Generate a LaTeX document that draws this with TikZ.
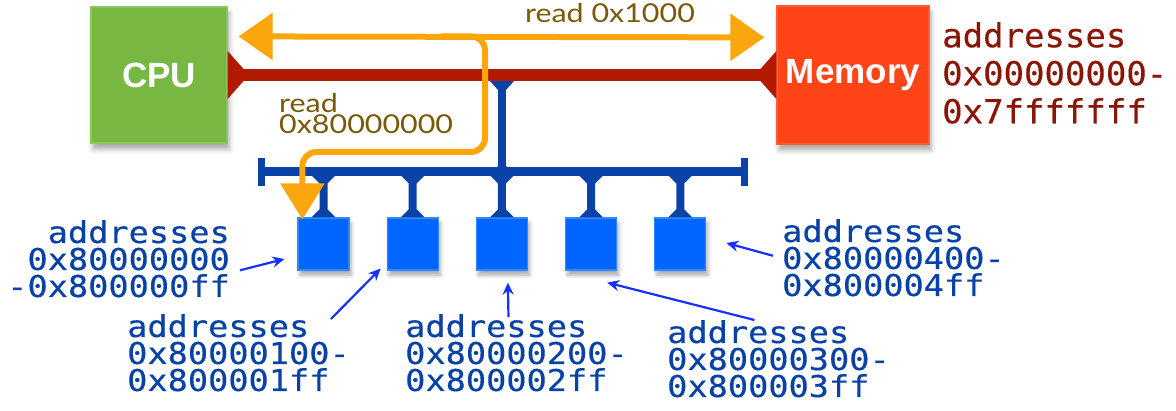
\documentclass[tikz,border=0pt]{standalone}
\usepackage{fontspec}
\usepackage{xcolor}
\usetikzlibrary{arrows.meta, calc, shadows.blur}

\newfontfamily\addrfont[FakeStretch=1.12, FakeBold=0.4]{DejaVu Sans Mono}
\newfontfamily\memaddrfont[FakeStretch=1.03, FakeBold=0.4]{DejaVu Sans Mono}
\newfontfamily\readfont[FakeStretch=1.17]{Lato}
\newfontfamily\unitfont{Liberation Sans}

\definecolor{cpugreen}{HTML}{77B843}
\definecolor{cpuedge}{HTML}{88C75C}
\definecolor{memred}{HTML}{FF4417}
\definecolor{memedge}{HTML}{FF5C33}
\definecolor{busred}{HTML}{B21A00}
\definecolor{busblue}{HTML}{0A42A8}
\definecolor{devblue}{HTML}{0066FF}
\definecolor{devedge}{HTML}{2E8BFF}
\definecolor{addrblue}{HTML}{0842A6}
\definecolor{addrred}{HTML}{8A1608}
\definecolor{readbrown}{HTML}{7A5A08}
\definecolor{hl}{HTML}{FBA60C}
\definecolor{ptrblue}{HTML}{1530FF}

\tikzset{
  unitbox/.style={minimum width=136pt, minimum height=136pt, inner sep=0pt, line width=1.2pt,
    blur shadow={shadow xshift=2pt, shadow yshift=-6pt, shadow opacity=35, shadow blur radius=5pt}},
  unittext/.style={text=white, inner sep=0pt, font=\unitfont\bfseries\fontsize{35}{35}\selectfont},
  device/.style={fill=devblue, draw=devedge, line width=1.2pt, minimum width=51pt, minimum height=52pt, inner sep=0pt,
    blur shadow={shadow xshift=2pt, shadow yshift=-5pt, shadow opacity=35, shadow blur radius=4pt}},
  redbus/.style={busred, line width=12pt},
  bluebus/.style={busblue, line width=8pt},
  hilite/.style={draw=hl, line width=6pt, rounded corners=14pt},
  addr/.style={text=addrblue, inner sep=0pt, align=left, font=\addrfont\fontsize{30}{27}\selectfont},
  memaddr/.style={text=addrred, inner sep=0pt, align=left, font=\memaddrfont\fontsize{33}{38}\selectfont},
  readlbl/.style={text=readbrown, inner sep=0pt, align=left, font=\readfont\fontsize{26}{21}\selectfont},
  pointer/.style={ptrblue, line width=2.2pt, -{Stealth[length=12pt,width=11pt]}},
}

\begin{document}
\begin{tikzpicture}[x=1pt, y=-1pt]
    \useasboundingbox (0,0) rectangle (1176,411);

    % CPU and memory on the top bus
    \node[unitbox, fill=cpugreen, draw=cpuedge] (cpu) at (159,75) {};
    \node[unitbox, fill=memred, draw=memedge, minimum width=152pt, minimum height=138pt] (mem) at (853,75) {};

    % devices on the lower bus
    \foreach \i in {1,...,5}
        \node[device] (dev\i) at ({323.5+89.2*(\i-1)},244) {};

    % blue bus and its taps
    \coordinate (hub) at (502,172);
    \coordinate (tap) at (hub |- cpu.east);
    \coordinate (bl) at (261,172);
    \coordinate (br) at (744,172);
    \draw[bluebus] (tap) -- (hub);
    \draw[bluebus, line width=9pt] (bl) -- (br);
    \draw[bluebus, line width=7pt] ($(bl)+(0,-14)$) -- ($(bl)+(0,14)$);
    \draw[bluebus, line width=7pt] ($(br)+(0,-14)$) -- ($(br)+(0,14)$);
    \fill[busblue] (hub) +(-10,0) -- +(0,-10) -- +(10,0) -- +(0,10) -- cycle;
    \fill[busblue] (tap) ++(-12,6) -- ++(24,0) -- ++(-8,9) -- ++(-8,0) -- cycle;
    \foreach \i in {1,...,5}
        \fill[busblue] (dev\i.north) ++(-12,0) -- ++(8,-8) -- ++(0,-26) -- ++(-8,-8)
            -- ++(24,0) -- ++(-8,8) -- ++(0,26) -- ++(8,8) -- cycle;

    % red bus
    \draw[redbus] (cpu.east) -- (mem.west);
    \fill[busred] (cpu.east) ++(0,-24) -- ++(16,18) -- ++(0,12) -- ++(-16,18) -- cycle;
    \fill[busred] (mem.west) ++(0,-24) -- ++(-16,18) -- ++(0,12) -- ++(16,18) -- cycle;

    % box texts
    \node[unittext] (cputext) at (cpu) {CPU};
    \node[unittext] (memtext) at (mem) {Memory};

    % address ranges
    \node[memaddr, anchor=north west] (memrange) at (942,22) {addresses\\0x00000000-\\0x7fffffff};
    \node[addr, anchor=north east, align=right] (lab1) at (230,220) {addresses\\0x80000000\\-0x800000ff};
    \node[addr, anchor=north west] (lab2) at (127,314) {addresses\\0x80000100-\\0x800001ff};
    \node[addr, anchor=north west] (lab3) at (405,314) {addresses\\0x80000200-\\0x800002ff};
    \node[addr, anchor=north west] (lab4) at (667,320) {addresses\\0x80000300-\\0x800003ff};
    \node[addr, anchor=north west] (lab5) at (782,219) {addresses\\0x80000400-\\0x800004ff};

    \draw[pointer] ($(lab1.east)+(10,11.5)$) -- ($(dev1.west)+(-13,15)$);
    \draw[pointer] ($(lab2.north east)+(-19,5)$) -- ($(dev2.south west)+(-6,-2)$);
    \draw[pointer] ($(lab3.north)+(-8,3)$) -- ($(dev3.south)+(6,12)$);
    \draw[pointer] ($(lab4.north)+(-24,0)$) -- ($(dev4.south east)+(-10,12)$);
    \draw[pointer] ($(lab5.west)+(-9,-2)$) -- ($(dev5.east)+(20,-1)$);

    % the two reads
    \coordinate (rdL) at ($(cpu.north east)+(11,30)$);
    \coordinate (rdR) at ($(mem.north west)+(-12,32)$);
    \coordinate (rdB) at ($(rdL)+(202,0)$);
    \coordinate (bend) at (485,152);
    \draw[hilite, {Triangle[width=46pt,length=34pt]}-{Triangle[width=46pt,length=34pt]}] (rdL) -- (rdR);
    \draw[hilite, -{Triangle[width=43pt,length=36pt]}] (rdB) -| (bend) -| ($(dev1.north west)+(5,2)$);

    \node[readlbl, anchor=base] (rdmem) at (610,23) {read 0x1000};
    \node[readlbl, anchor=north west] (rddev) at (279,93) {read\\0x80000000};

\end{tikzpicture}
\end{document}
